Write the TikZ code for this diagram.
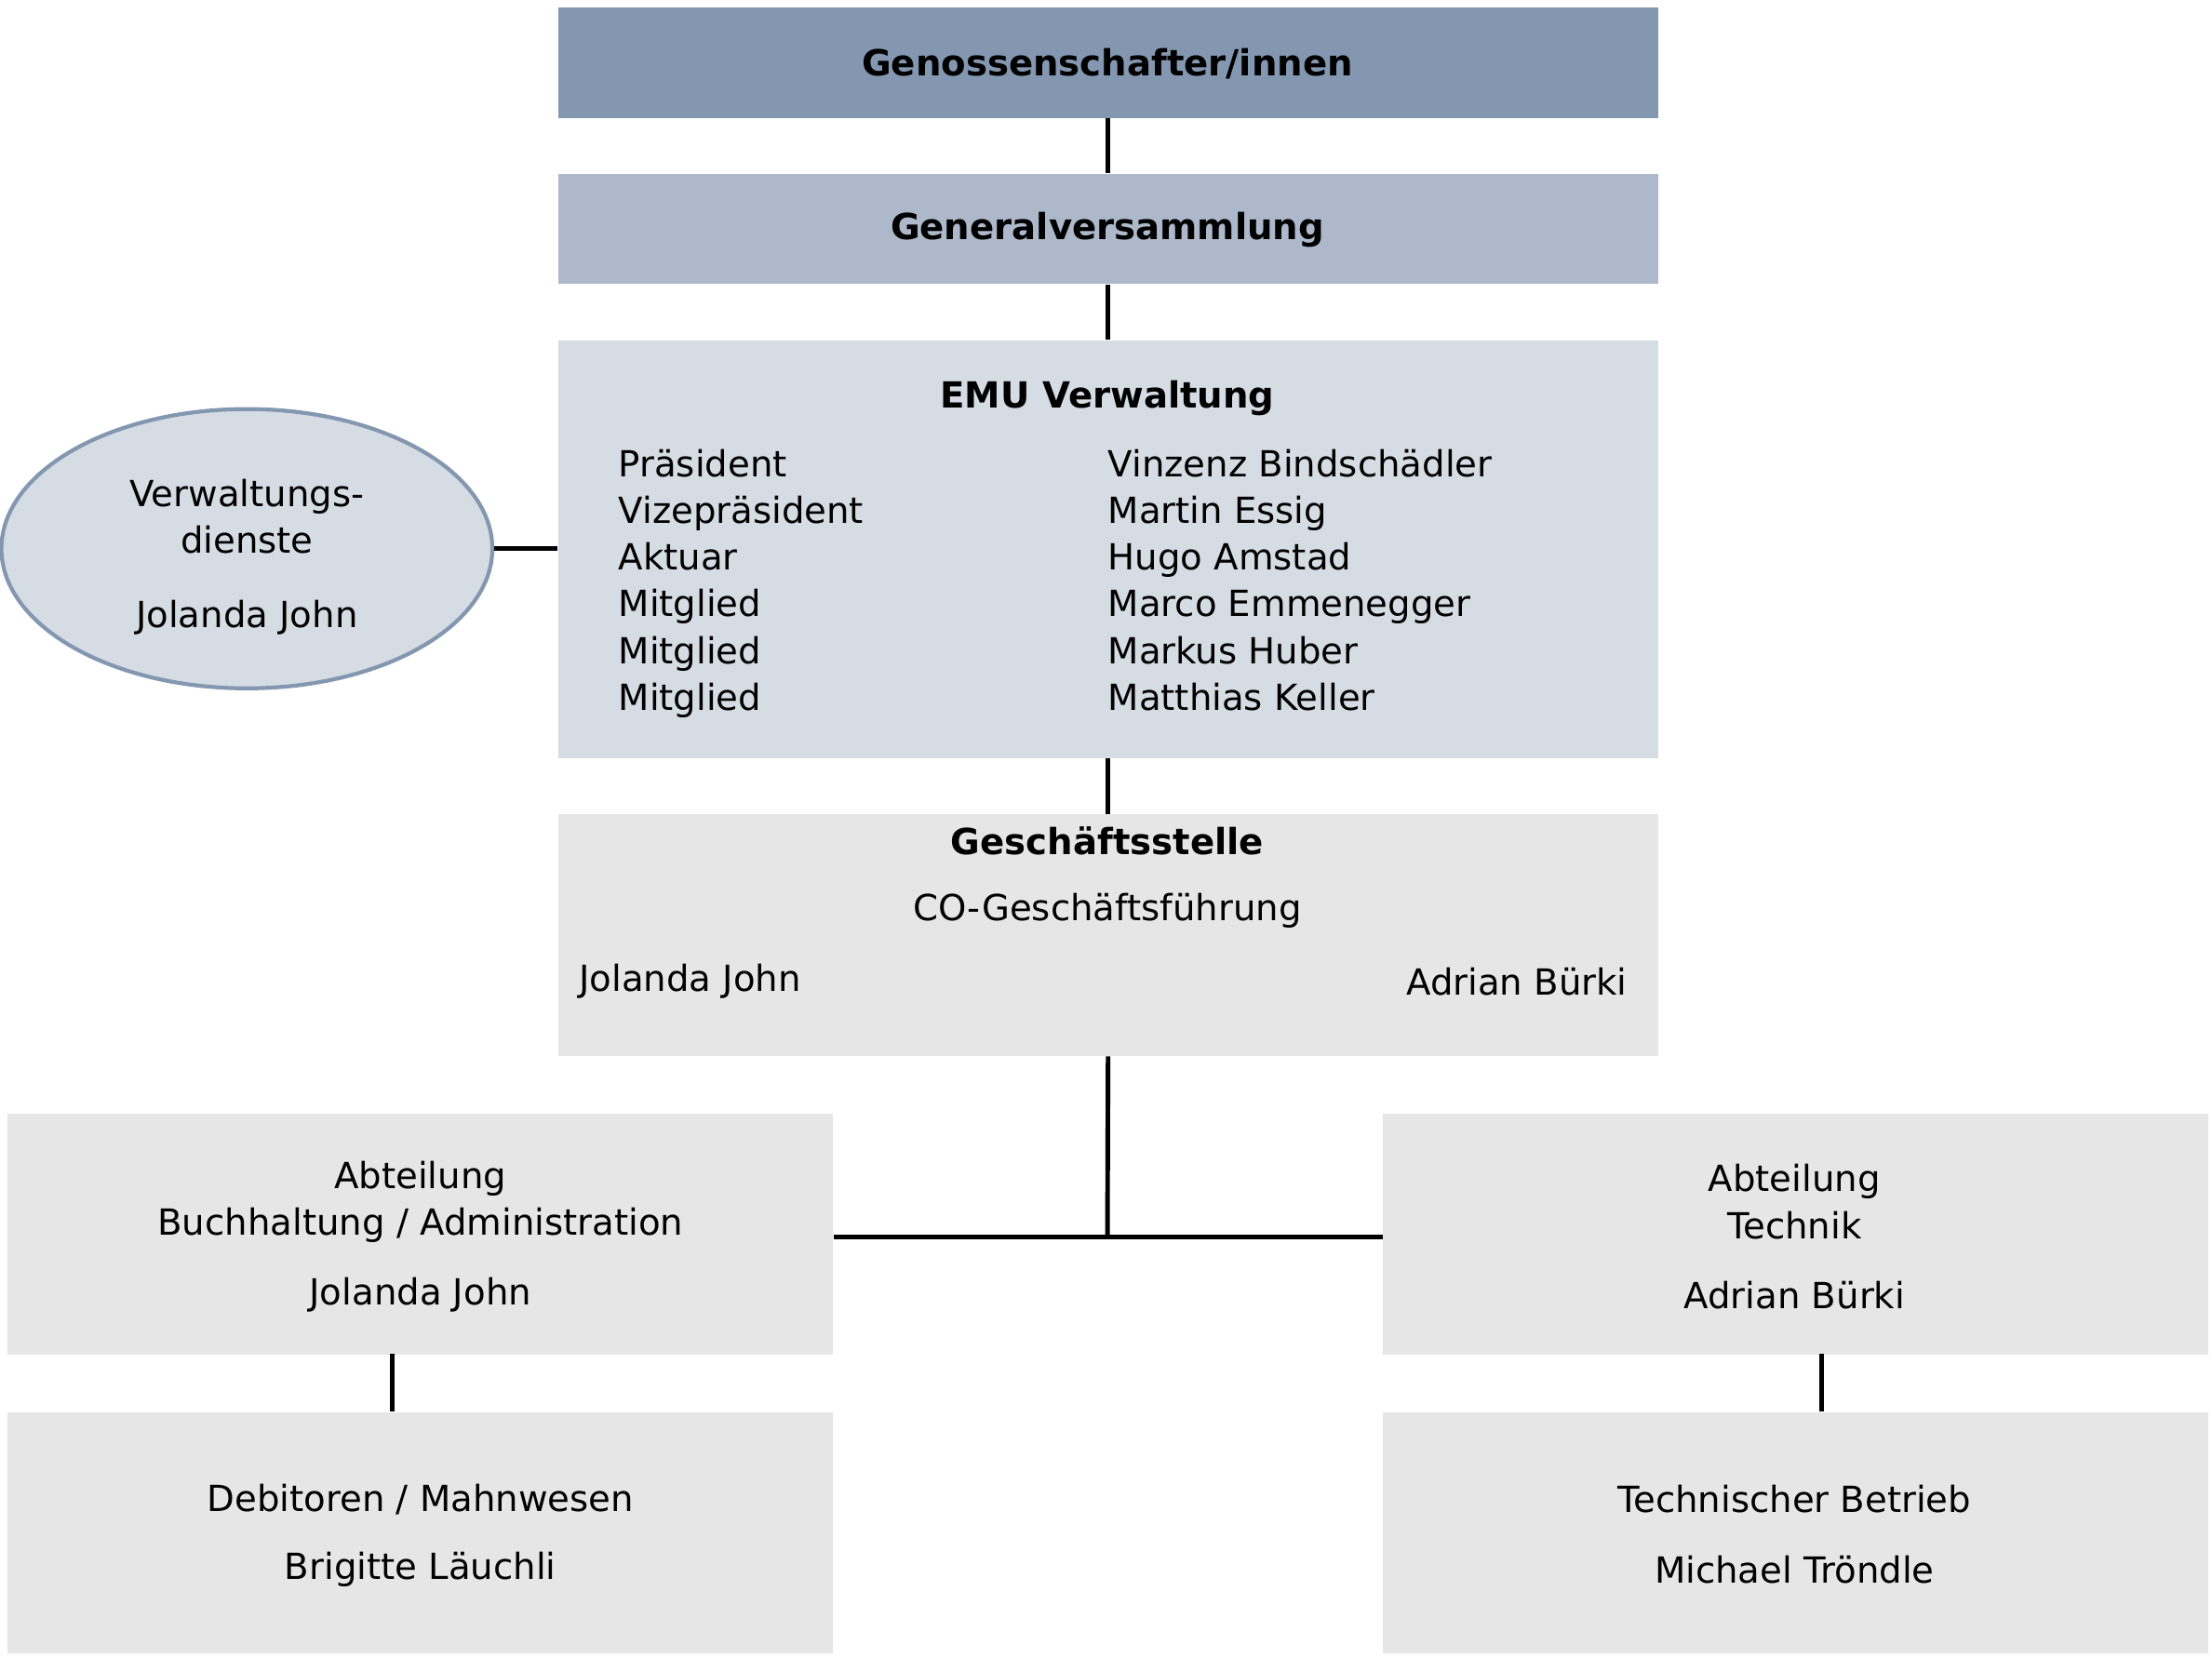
\documentclass[tikz,border=0pt]{standalone}
\usepackage{fontspec}
\setmainfont{DejaVu Sans}
\usetikzlibrary{positioning,shapes.geometric}
\definecolor{blueA}{HTML}{8497B0}
\definecolor{blueB}{HTML}{ADB9CA}
\definecolor{blueC}{HTML}{D6DCE4}
\definecolor{greyA}{HTML}{E7E6E6}
\def\pxu{0.01516cm}
\tikzset{
  box/.style={rectangle,anchor=north west,inner sep=0pt},
  link/.style={line width=1.4pt},
  txt/.style={font=\fontsize{11}{14.3}\selectfont,inner sep=0pt},
  head/.style={txt,font=\fontsize{11}{14.3}\selectfont\bfseries}
}
\begin{document}
\begin{tikzpicture}[x=\pxu,y=-\pxu]
    \useasboundingbox (0,0) rectangle (1568,1175);

    % boxes
    \node[box,fill=blueA,minimum width=780*\pxu,minimum height=78*\pxu] (gen) at (395,5) {};
    \node[box,fill=blueB,minimum width=780*\pxu,minimum height=78*\pxu] (gv) at (395,123) {};
    \node[box,fill=blueC,minimum width=780*\pxu,minimum height=296*\pxu] (emu) at (395,241) {};
    \node[box,fill=greyA,minimum width=780*\pxu,minimum height=171*\pxu] (gs) at (395,577) {};
    \node[box,fill=greyA,minimum width=585*\pxu,minimum height=171*\pxu] (buch) at (5,789) {};
    \node[box,fill=greyA,minimum width=585*\pxu,minimum height=171*\pxu] (tech) at (980,789) {};
    \node[box,fill=greyA,minimum width=585*\pxu,minimum height=171*\pxu] (deb) at (5,1001) {};
    \node[box,fill=greyA,minimum width=585*\pxu,minimum height=171*\pxu] (betr) at (980,1001) {};
    \node[ellipse,draw=blueA,line width=1.2pt,fill=blueC,minimum width=348*\pxu,minimum height=198*\pxu] (vd) at (175,389) {};

    % connectors
    \coordinate (fork) at (785,877);
    \draw[link] (gen.south) -- (gv.north);
    \draw[link] (gv.south) -- (emu.north);
    \draw[link] (emu.south) -- (gs.north);
    \draw[link] (vd.east) -- (vd.east -| emu.west);
    \draw[link] (gs.south) -- (fork);
    \draw[link] (buch.east |- fork) -- (tech.west |- fork);
    \draw[link] (278,960) -- (278,1001);
    \draw[link] (1291,960) -- (1291,1001);

    % texts
    \node[head] (tgen) at (785,45) {Genossenschafter/innen};
    \node[head] (tgv) at (785,163) {Generalversammlung};
    \node[head] (temu) at (785,282) {EMU Verwaltung};
    \node[txt,anchor=north west,align=left] (roles) at (438,318)
      {Präsident\\Vizepräsident\\Aktuar\\Mitglied\\Mitglied\\Mitglied};
    \node[txt,anchor=north west,align=left] (names) at (785,318)
      {Vinzenz Bindschädler\\Martin Essig\\Hugo Amstad\\Marco Emmenegger\\Markus Huber\\Matthias Keller};
    \node[txt,align=center] (tvd) at (175,366) {Verwaltungs-\\dienste};
    \node[txt] (tvdn) at (175,438) {Jolanda John};
    \node[head] (tgs) at (785,596) {Geschäftsstelle};
    \node[txt] (tco) at (785,646) {CO-Geschäftsführung};
    \node[txt,anchor=west] (tjj) at (410,696) {Jolanda John};
    \node[txt,anchor=east] (tab) at (1154,696) {Adrian Bürki};
    \node[txt,align=center] (tbuch) at (298,852) {Abteilung\\Buchhaltung / Administration};
    \node[txt] (tbuchn) at (298,918) {Jolanda John};
    \node[txt,align=center] (ttech) at (1272,852) {Abteilung\\Technik};
    \node[txt] (ttechn) at (1272,918) {Adrian Bürki};
    \node[txt] (tdeb) at (298,1063) {Debitoren / Mahnwesen};
    \node[txt] (tdebn) at (298,1113) {Brigitte Läuchli};
    \node[txt] (tbetr) at (1272,1063) {Technischer Betrieb};
    \node[txt] (tbetrn) at (1272,1113) {Michael Tröndle};
\end{tikzpicture}
\end{document}
